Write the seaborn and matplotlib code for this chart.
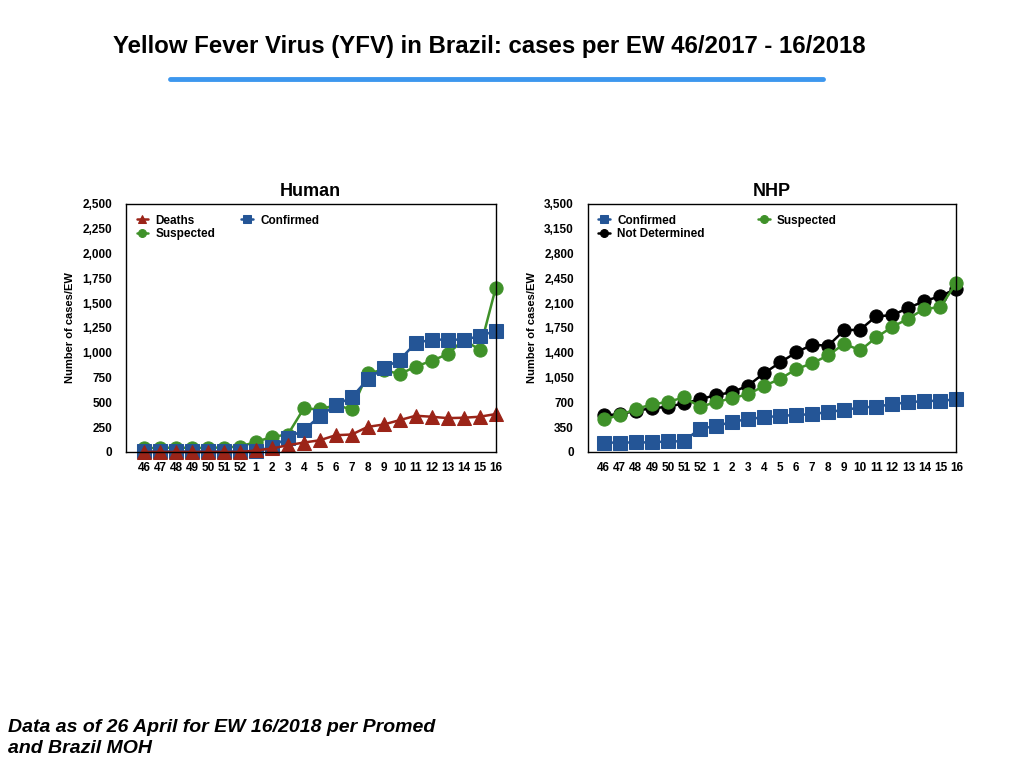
import matplotlib
matplotlib.use("Agg")
import matplotlib.pyplot as plt
import seaborn as sns
import pandas as pd

# epidemiological weeks 46/2017 - 16/2018
weeks = ['46', '47', '48', '49', '50', '51', '52', '1', '2', '3', '4', '5',
         '6', '7', '8', '9', '10', '11', '12', '13', '14', '15', '16']

# Human cases
human_deaths = [0, 0, 0, 0, 0, 0, 0, 15, 35, 68, 95, 118, 169, 176, 253, 277,
                321, 365, 355, 341, 345, 355, 382]
human_suspected = [40, 40, 45, 40, 42, 45, 55, 101, 152, 176, 439, 429, 473,
                   429, 794, 828, 784, 861, 919, 986, 1132, 1030, 1649]
human_confirmed = [5, 5, 5, 5, 5, 5, 5, 7, 50, 145, 220, 361, 473, 551, 733,
                   845, 929, 1098, 1132, 1132, 1132, 1166, 1223]

# NHP cases
nhp_confirmed = [132, 132, 135, 135, 150, 150, 331, 364, 426, 463, 492, 506,
                 525, 530, 567, 591, 629, 638, 676, 700, 719, 723, 742]
nhp_suspected = [459, 520, 605, 672, 705, 771, 638, 700, 761, 813, 932, 1031,
                 1168, 1253, 1362, 1527, 1433, 1617, 1764, 1882, 2019, 2043, 2388]
nhp_not_determined = [520, 530, 582, 615, 638, 686, 742, 804, 842, 936, 1111,
                      1263, 1404, 1513, 1499, 1717, 1726, 1915, 1929, 2033,
                      2128, 2199, 2303]

RED = '#9b2418'
BLUE = '#245596'
GREEN = '#3f9129'
BLACK = '#000000'

sns.set_style('white')
plt.rcParams['font.family'] = ['Liberation Sans', 'DejaVu Sans']
for key in ['text.color', 'axes.labelcolor', 'xtick.color', 'ytick.color']:
    plt.rcParams[key] = 'black'

fig = plt.figure(figsize=(10.24, 7.68), dpi=100)
fig.patch.set_facecolor('white')

idx = list(range(len(weeks)))


def draw_series(ax, values, color, marker, label, ms):
    df = pd.DataFrame({'week': idx, 'value': values})
    sns.lineplot(data=df, x='week', y='value', ax=ax, color=color, marker=marker,
                 markersize=ms, markeredgecolor=color, linewidth=1.8, label=label)
    ax.lines[-1].set_clip_on(False)


def style_axes(ax, title, ymax, step, left_pad):
    ax.set_xlim(-left_pad, len(weeks) - 1)
    ax.set_ylim(0, ymax)
    ax.set_yticks(range(0, ymax + 1, step))
    ax.set_yticklabels([f'{v:,}' for v in range(0, ymax + 1, step)],
                       fontsize=8.5, fontweight='bold')
    ax.set_xticks(idx)
    ax.set_xticklabels(weeks, fontsize=8.5, fontweight='bold')
    ax.tick_params(axis='x', length=0, pad=7)
    ax.tick_params(axis='y', length=0, pad=10)
    ax.set_xlabel('')
    ax.set_ylabel('Number of cases/EW', fontsize=8, fontweight='bold', labelpad=5)
    ax.set_title(title, fontsize=13, fontweight='bold', pad=6)
    for s in ax.spines.values():
        s.set_color('black')
        s.set_linewidth(1.0)


# Human panel
ax1 = fig.add_axes([0.123, 0.4115, 0.361, 0.323])
draw_series(ax1, human_suspected, GREEN, 'o', 'Suspected', 9.5)
draw_series(ax1, human_confirmed, BLUE, 's', 'Confirmed', 10)
draw_series(ax1, human_deaths, RED, '^', 'Deaths', 10)
style_axes(ax1, 'Human', 2500, 250, 1.13)
h, l = ax1.get_legend_handles_labels()
order = [l.index('Deaths'), l.index('Suspected'), l.index('Confirmed')]
ax1.legend([h[i] for i in order], [l[i] for i in order], ncol=2, frameon=False,
           loc='upper left', bbox_to_anchor=(0.0, 1.0), handlelength=1.0,
           markerscale=0.6, prop={'weight': 'bold', 'size': 8.5},
           labelspacing=0.15, columnspacing=2.2, handletextpad=0.6)

# NHP panel
ax2 = fig.add_axes([0.574, 0.4115, 0.360, 0.323])
draw_series(ax2, nhp_not_determined, BLACK, 'o', 'Not Determined', 9.5)
draw_series(ax2, nhp_confirmed, BLUE, 's', 'Confirmed', 10)
draw_series(ax2, nhp_suspected, GREEN, 'o', 'Suspected', 9.5)
style_axes(ax2, 'NHP', 3500, 350, 1.0)
h, l = ax2.get_legend_handles_labels()
order = [l.index('Confirmed'), l.index('Not Determined'), l.index('Suspected')]
ax2.legend([h[i] for i in order], [l[i] for i in order], ncol=2, frameon=False,
           loc='upper left', bbox_to_anchor=(0.0, 1.0), handlelength=1.0,
           markerscale=0.6, prop={'weight': 'bold', 'size': 8.5},
           labelspacing=0.15, columnspacing=4.5, handletextpad=0.6)

# page title and underline
fig.text(0.478, 0.94, 'Yellow Fever Virus (YFV) in Brazil: cases per EW 46/2017 - 16/2018',
         ha='center', va='center', fontsize=17.3, fontweight='bold')
fig.add_artist(plt.Line2D([170 / 1024, 823 / 1024], [1 - 79 / 768, 1 - 79 / 768],
                          color='#3d97ee', linewidth=3.5, transform=fig.transFigure))

# footnote
fig.text(0.008, 1 - 738 / 768, 'Data as of 26 April for EW 16/2018 per Promed\nand Brazil MOH',
         ha='left', va='center', fontsize=14, fontweight='bold', style='italic',
         linespacing=1.35)

fig.savefig('out.png', dpi=100, facecolor='white')
